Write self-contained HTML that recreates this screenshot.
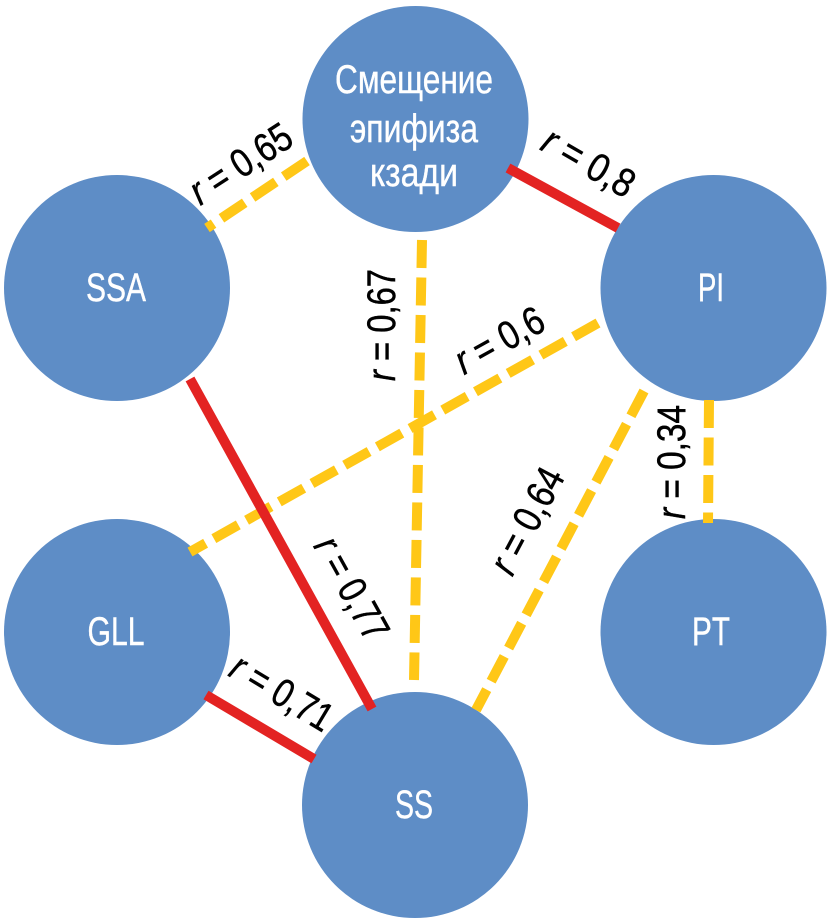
<!DOCTYPE html>
<html><head><meta charset="utf-8"><style>
html,body{margin:0;padding:0;background:#fff;width:832px;height:924px;overflow:hidden}
svg{display:block}
text{font-family:"Liberation Sans Narrow","Liberation Sans",sans-serif;font-size:40px}
.w{fill:#fff;text-anchor:middle;stroke:#fff;stroke-width:.4}
.k{fill:#000;text-anchor:middle;stroke:#000;stroke-width:.5}
.d{stroke:#FFC717;stroke-width:10;stroke-dasharray:28 9.5;fill:none}
.r{stroke:#E32322;stroke-width:10;fill:none}
</style></head><body>
<svg width="832" height="924" viewBox="0 0 832 924">
<g fill="#5E8DC6">
<circle cx="415.500" cy="119" r="113"/>
<circle cx="117" cy="288" r="113"/>
<circle cx="713.500" cy="288" r="113"/>
<circle cx="117" cy="632" r="113"/>
<circle cx="713.500" cy="632" r="113"/>
<circle cx="415" cy="805" r="113"/>
</g>
<line class="d" x1="307" y1="161" x2="207" y2="228"/>
<line class="d" x1="422" y1="240" x2="414" y2="680"/>
<line class="d" x1="598" y1="323" x2="190" y2="552"/>
<line class="d" x1="644" y1="391" x2="476" y2="710"/>
<line class="d" x1="709" y1="400" x2="708" y2="523"/>
<line class="r" x1="508" y1="168" x2="618" y2="228"/>
<line class="r" x1="190" y1="379" x2="372" y2="709"/>
<line class="r" x1="206" y1="695" x2="314" y2="759"/>
<text class="w" x="414" y="93" textLength="158" lengthAdjust="spacingAndGlyphs">Смещение</text>
<text class="w" x="414" y="142" textLength="128" lengthAdjust="spacingAndGlyphs">эпифиза</text>
<text class="w" x="414" y="186" textLength="88" lengthAdjust="spacingAndGlyphs">кзади</text>
<text class="w" x="116" y="301" textLength="60" lengthAdjust="spacingAndGlyphs">SSA</text>
<text class="w" x="711" y="301" textLength="26" lengthAdjust="spacingAndGlyphs">PI</text>
<text class="w" x="116" y="645" textLength="57" lengthAdjust="spacingAndGlyphs">GLL</text>
<text class="w" x="711" y="645" textLength="38" lengthAdjust="spacingAndGlyphs">PT</text>
<text class="w" x="414" y="818" textLength="38" lengthAdjust="spacingAndGlyphs">SS</text>
<text class="k" transform="translate(248,175) rotate(-33)" textLength="114" lengthAdjust="spacingAndGlyphs"><tspan font-style="italic">r</tspan> = 0,65</text>
<text class="k" transform="translate(395,325) rotate(-90)" textLength="112" lengthAdjust="spacingAndGlyphs"><tspan font-style="italic">r</tspan> = 0,67</text>
<text class="k" transform="translate(506,352) rotate(-29)" textLength="96" lengthAdjust="spacingAndGlyphs"><tspan font-style="italic">r</tspan> = 0,6</text>
<text class="k" transform="translate(582,174) rotate(30)" textLength="100" lengthAdjust="spacingAndGlyphs"><tspan font-style="italic">r</tspan> = 0,8</text>
<text class="k" transform="translate(685,462) rotate(-90)" textLength="114" lengthAdjust="spacingAndGlyphs"><tspan font-style="italic">r</tspan> = 0,34</text>
<text class="k" transform="translate(539,527) rotate(-62)" textLength="114" lengthAdjust="spacingAndGlyphs"><tspan font-style="italic">r</tspan> = 0,64</text>
<text class="k" transform="translate(340,595) rotate(61)" textLength="112" lengthAdjust="spacingAndGlyphs"><tspan font-style="italic">r</tspan> = 0,77</text>
<text class="k" transform="translate(275,704) rotate(31)" textLength="112" lengthAdjust="spacingAndGlyphs"><tspan font-style="italic">r</tspan> = 0,71</text>
</svg>
</body></html>
